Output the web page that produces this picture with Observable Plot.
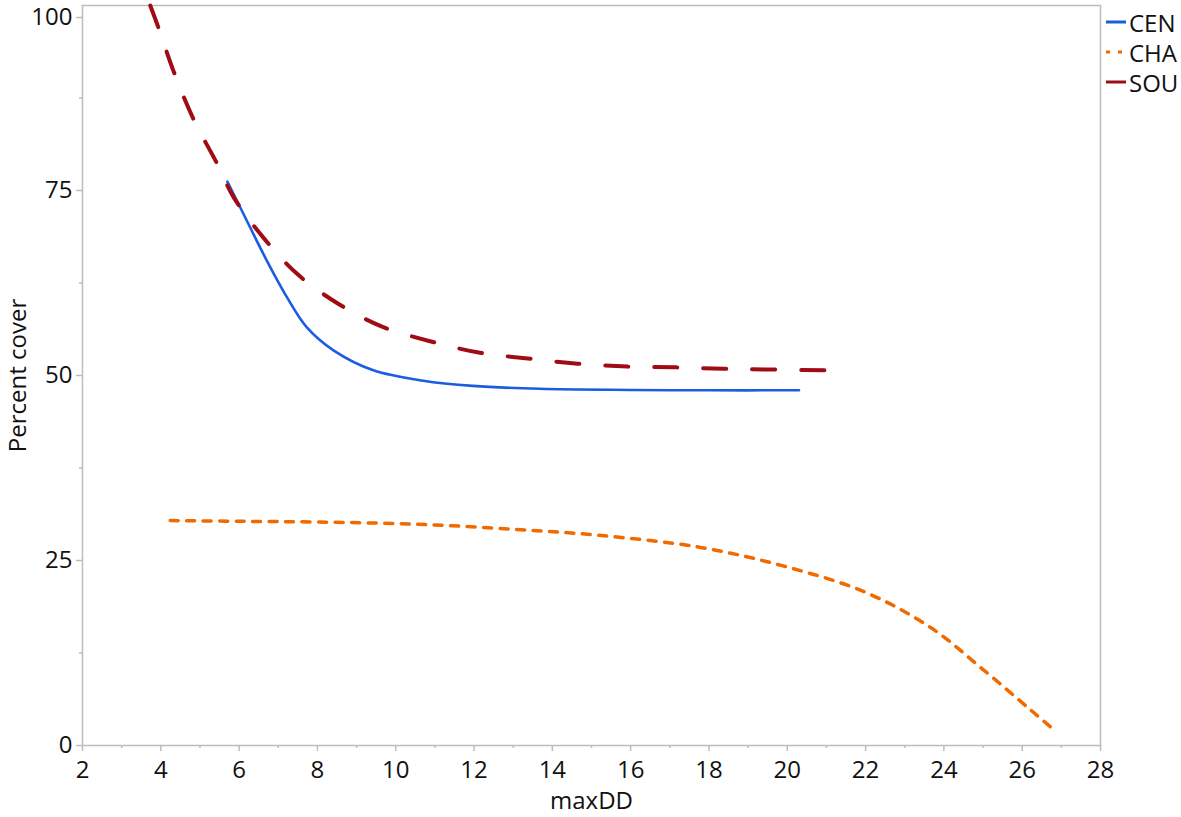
<!DOCTYPE html>
<html>
<head>
<meta charset="utf-8">
<script src="https://cdn.jsdelivr.net/npm/d3@7"></script>
<script src="https://cdn.jsdelivr.net/npm/@observablehq/plot@0.6"></script>
<style>
  html, body { margin: 0; padding: 0; background: #fff; }
  #wrap { position: relative; width: 1181px; height: 817px; font-family: "Open Sans", "Noto Sans", sans-serif; }
  #legend { position: absolute; left: 1105px; top: 7px; font-size: 24px; color: #111; }
  #legend .row { display: flex; align-items: center; height: 30px; }
  #legend svg { margin-right: 2px; }
</style>
</head>
<body>
<div id="wrap"><div id="legend"></div></div>
<script>
const seriesNames = ["CEN", "CHA", "SOU"];
const seriesColors = ["#1c5ce0", "#f06a00", "#a00c14"];

const cenX = [5.70, 6.03, 6.71, 7.22, 7.73, 8.41, 9.43, 10.7, 11.97, 13.67, 16.0, 18.0, 20.3];
const cenY = [76.2, 72.7, 65.5, 60.6, 56.5, 53.4, 50.7, 49.3, 48.6, 48.2, 48.05, 48.0, 48.0];

const chaX = [4.24, 6.0, 8.0, 10.54, 13.09, 15.2, 17.75, 19.87, 22.0, 23.7, 24.97, 26.24, 26.75];
const chaY = [30.4, 30.3, 30.2, 29.9, 29.2, 28.4, 26.8, 24.3, 20.7, 15.8, 10.4, 4.7, 2.4];

const souX = [3.73, 3.94, 4.32, 4.83, 5.44, 5.87, 6.64, 7.51, 8.53, 9.65, 10.9, 12.12, 13.37, 14.64, 15.92, 17.17, 18.44, 19.72, 21.15];
const souY = [100, 97, 91.2, 84.7, 78.6, 74, 68.5, 63.6, 59.7, 56.6, 54.6, 53.1, 52.3, 51.6, 51.2, 51.1, 50.9, 50.8, 50.7];

const xTicks = [2, 4, 6, 8, 10, 12, 14, 16, 18, 20, 22, 24, 26, 28];
const xMinor = [3, 5, 7, 9, 11, 13, 15, 17, 19, 21, 23, 25, 27];
const yTicks = [0, 25, 50, 75];
const yTopTick = [100];
const yMinor = [12.5, 37.5, 62.5, 87.5];

const toRows = (xs, ys) => xs.map((x, i) => ({x, y: ys[i]}));
const cen = toRows(cenX, cenY);
const cha = toRows(chaX, chaY);
const sou = toRows(souX, souY);

const axisGray = "#bdbdbd";
const font = "'Open Sans', 'Noto Sans', sans-serif";
const fs = 24;

const chart = Plot.plot({
  width: 1181,
  height: 817,
  marginLeft: 82,
  marginRight: 81,
  marginTop: 5,
  marginBottom: 72,
  style: { fontFamily: font, fontSize: fs + "px", color: "#111", background: "#fff" },
  x: { domain: [2, 28] },
  y: { domain: [0, 100] },
  marks: [
    Plot.frame({ stroke: axisGray, strokeWidth: 1.5 }),
    Plot.axisX({ ticks: xTicks, tickSize: 6, tickPadding: 9, stroke: axisGray, strokeWidth: 1.5, fill: "#111", fontSize: fs, label: null }),
    Plot.axisX({ ticks: xMinor, tickSize: 3, text: null, stroke: axisGray, strokeWidth: 1.5, label: null }),
    Plot.axisY({ ticks: yTicks, tickSize: 6, tickPadding: 4, stroke: axisGray, strokeWidth: 1.5, fill: "#111", fontSize: fs, label: null }),
    Plot.axisY({ ticks: yTopTick, tickSize: 6, tickPadding: 4, stroke: axisGray, strokeWidth: 1.5, fill: "#111", fontSize: fs, label: null, dy: 12 }),
    Plot.axisY({ ticks: yMinor, tickSize: 3, text: null, stroke: axisGray, strokeWidth: 1.5, label: null }),
    Plot.line(cha, { x: "x", y: "y", curve: "catmull-rom", stroke: seriesColors[1], strokeWidth: 3.5, strokeDasharray: "8,8.5" }),
    Plot.line(cen, { x: "x", y: "y", curve: "catmull-rom", stroke: seriesColors[0], strokeWidth: 2.6 }),
    Plot.line(sou, { x: "x", y: "y", curve: "catmull-rom", stroke: seriesColors[2], strokeWidth: 4, strokeDasharray: "23,26" }),
    Plot.text(["maxDD"], { frameAnchor: "bottom", dy: 56, fontSize: fs, fill: "#111", lineAnchor: "middle", textAnchor: "middle" }),
    Plot.text(["Percent cover"], { frameAnchor: "left", dx: -64, rotate: -90, fontSize: fs, fill: "#111", lineAnchor: "middle", textAnchor: "middle" })
  ]
});
document.getElementById("wrap").prepend(chart);

const legend = d3.select("#legend");
const dashes = [null, "4,8", null];
seriesNames.forEach((name, i) => {
  const row = legend.append("div").attr("class", "row");
  const svg = row.append("svg").attr("width", 22).attr("height", 10);
  svg.append("line").attr("x1", 1).attr("x2", 21).attr("y1", 5).attr("y2", 5)
    .attr("stroke", seriesColors[i]).attr("stroke-width", 3)
    .attr("stroke-dasharray", dashes[i]);
  row.append("span").text(name);
});
</script>
</body>
</html>
